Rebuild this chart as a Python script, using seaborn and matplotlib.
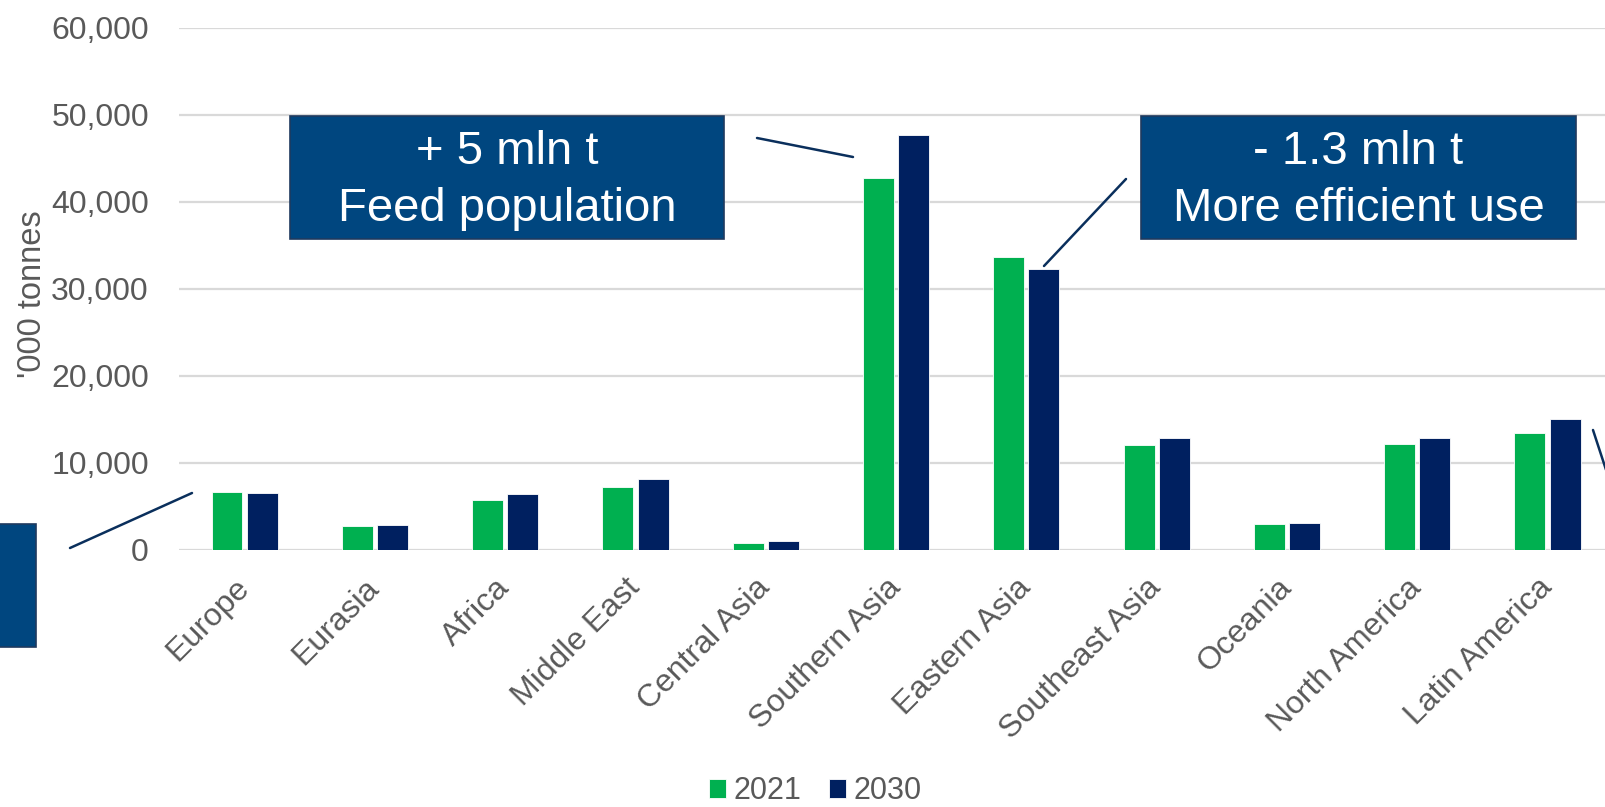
import matplotlib
matplotlib.use("Agg")
import matplotlib.pyplot as plt
import matplotlib.patches as mpatches
import matplotlib.lines as mlines
import matplotlib.ticker as mticker
import pandas as pd
import seaborn as sns

regions = ["Europe", "Eurasia", "Africa", "Middle East", "Central Asia",
           "Southern Asia", "Eastern Asia", "Southeast Asia", "Oceania",
           "North America", "Latin America"]
years = ["2021", "2030"]
use_2021 = [6700, 2700, 5700, 7200, 850, 42700, 33600, 12100, 3000, 12200, 13400]
use_2030 = [6550, 2850, 6400, 8150, 1000, 47700, 32300, 12850, 3100, 12850, 15100]
y_ticks = [0, 10000, 20000, 30000, 40000, 50000, 60000]

GREEN = "#00B050"
NAVY = "#002060"
BOX = "#00467F"
LINE = "#0A2F5C"
GREY = "#595959"
W, H = 1605, 807

df = pd.DataFrame({
    "region": regions * 2,
    "year": [years[0]] * len(regions) + [years[1]] * len(regions),
    "tonnes": use_2021 + use_2030,
})

sns.set_style("white")
plt.rcParams["font.family"] = ["Liberation Sans", "DejaVu Sans"]

fig = plt.figure(figsize=(W / 100, H / 100), dpi=100)
ax = fig.add_axes([0.1118, 0.3185, 0.893, 0.6473])

sns.barplot(data=df, x="region", y="tonnes", hue="year", order=regions,
            hue_order=years, palette=[GREEN, NAVY], width=0.54, gap=0.12,
            saturation=1, edgecolor="white", linewidth=0.6, ax=ax)

ax.set_xlim(-0.5, len(regions) - 0.5)
ax.set_ylim(0, 60000)
ax.set_yticks(y_ticks)
ax.yaxis.set_major_formatter(mticker.StrMethodFormatter("{x:,.0f}"))
ax.yaxis.grid(True, color="#D9D9D9", linewidth=1.6)
ax.set_axisbelow(True)
for s in ax.spines.values():
    s.set_visible(False)

ax.tick_params(axis="y", length=0, labelsize=23, labelcolor=GREY, pad=22)
ax.tick_params(axis="x", length=0, labelsize=23, labelcolor=GREY, pad=24)
ax.set_xticks(range(len(regions)))
ax.set_xticklabels(regions, rotation=45, ha="right", va="center",
                   rotation_mode="anchor")
ax.set_xlabel("")
ax.set_ylabel("'000 tonnes", fontsize=23.5, color=GREY)
ax.yaxis.set_label_coords(-0.092, 0.49)

sns.move_legend(ax, "lower center", bbox_to_anchor=(0.508, -0.033),
                bbox_transform=fig.transFigure, ncol=2, frameon=False,
                title=None, fontsize=22, labelcolor=GREY, handlelength=0.55,
                handleheight=0.55, handletextpad=0.25, columnspacing=0.9)


# annotation boxes and leader lines (figure pixel coords, top-left origin)
def box(x0, y0, x1, y1, text=None):
    fig.add_artist(mpatches.Rectangle((x0 / W, 1 - y1 / H), (x1 - x0) / W,
                                      (y1 - y0) / H, transform=fig.transFigure,
                                      facecolor=BOX, edgecolor="#1F3A5F",
                                      linewidth=1.2, clip_on=False))
    if text:
        fig.text((x0 + x1) / 2 / W, 1 - ((y0 + y1) / 2 + 3) / H, text,
                 ha="center", va="center", color="white", fontsize=34,
                 linespacing=1.4)


def leader(xa, ya, xb, yb):
    fig.add_artist(mlines.Line2D([xa / W, xb / W], [1 - ya / H, 1 - yb / H],
                                 transform=fig.transFigure, color=LINE,
                                 linewidth=1.8, clip_on=False))


box(290, 116, 724, 239, "+ 5 mln t\nFeed population")
leader(757, 138, 853, 157)
box(1141, 116, 1576, 239, "- 1.3 mln t\nMore efficient use")
leader(1126, 179, 1044, 266)
box(-5, 524, 36, 647)
leader(70, 548, 192, 493)
leader(1593, 430, 1610, 482)

fig.savefig("out.png", dpi=100)
